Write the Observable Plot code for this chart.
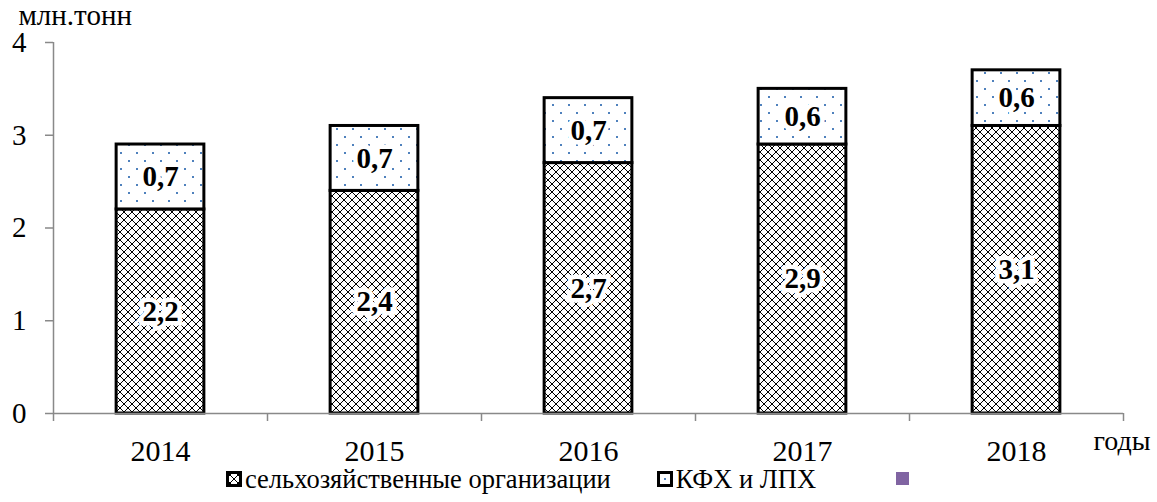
<!DOCTYPE html>
<html>
<head>
<meta charset="utf-8">
<script src="https://cdn.jsdelivr.net/npm/d3@7"></script>
<script src="https://cdn.jsdelivr.net/npm/@observablehq/plot@0.6"></script>
<style>
  body { margin: 0; background: white; font-family: "Liberation Serif", "Times New Roman", serif; }
  #wrap { position: relative; width: 1157px; height: 502px; overflow: hidden; background: white; }
  #wrap > svg { position: absolute; left: 0; top: 0; }
  #legend { position: absolute; left: 226px; top: 466px; display: flex; align-items: center; font-size: 26.5px; line-height: 1; white-space: nowrap; font-family: "Liberation Serif", serif; }
  #legend .item { display: flex; align-items: center; }
  #legend svg { display: block; margin-right: 3px; }
</style>
</head>
<body>
<div id="wrap">
  <div id="legend"></div>
</div>
<script>
// ---- data ----
const years = ["2014", "2015", "2016", "2017", "2018"];
const agri = [2.2, 2.4, 2.7, 2.9, 3.1];   // сельхозяйственные организации
const kfh = [0.7, 0.7, 0.7, 0.6, 0.6];    // КФХ и ЛПХ
const seriesNames = ["сельхозяйственные организации", "КФХ и ЛПХ"];
const yTicks = [0, 1, 2, 3, 4];
const yUnit = "млн.тонн";
const xUnit = "годы";

// ---- derived table ----
const rows = years.flatMap((year, i) => [
  {i, year, series: seriesNames[0], y1: 0, y2: agri[i], v: agri[i]},
  {i, year, series: seriesNames[1], y1: agri[i], y2: agri[i] + kfh[i], v: kfh[i]}
]);
const BAR = 0.41;
const boundaries = d3.range(years.length + 1);
const centres = years.map((_, i) => i + 0.5);
const fmt = v => v.toFixed(1).replace(".", ",");
const GRAY = "#898989";

const chart = Plot.plot({
  width: 1157,
  height: 502,
  marginLeft: 53,
  marginRight: 34,
  marginTop: 42,
  marginBottom: 89,
  x: {domain: [0, years.length]},
  y: {domain: [0, 4]},
  style: {fontFamily: "Liberation Serif", fontSize: "28px", background: "white", color: "black", overflow: "visible"},
  marks: [
    Plot.rectY(rows, {filter: d => d.series === seriesNames[0], x1: d => d.i + (1 - BAR) / 2, x2: d => d.i + (1 + BAR) / 2, y1: "y1", y2: "y2", fill: "url(#p-cross)", stroke: "black", strokeWidth: 3}),
    Plot.rectY(rows, {filter: d => d.series === seriesNames[1], x1: d => d.i + (1 - BAR) / 2, x2: d => d.i + (1 + BAR) / 2, y1: "y1", y2: "y2", fill: "url(#p-dots)", stroke: "black", strokeWidth: 3}),
    Plot.ruleX([0], {stroke: GRAY, strokeWidth: 1.5}),
    Plot.ruleY([0], {stroke: GRAY, strokeWidth: 1.5}),
    Plot.axisY({ticks: yTicks, tickSize: 8, tickPadding: 19, tickFormat: d => String(d), stroke: GRAY, strokeWidth: 1.5, fill: "black", fontSize: 29, label: null}),
    Plot.axisX({ticks: boundaries, tickSize: 8, tickFormat: () => "", stroke: GRAY, strokeWidth: 1.5, label: null}),
    Plot.axisX({ticks: centres, tickSize: 0, tickPadding: 26, tickFormat: v => years[Math.floor(v)], fill: "black", fontSize: 30, label: null}),
    Plot.text(rows, {x: d => d.i + 0.5, y: d => (d.y1 + d.y2) / 2, text: d => fmt(d.v), fontWeight: "bold", fontSize: 29, fill: "black", stroke: "white", strokeWidth: 9, strokeLinejoin: "miter"}),
    // unit labels, anchored to the frame corners
    Plot.text([yUnit], {frameAnchor: "top-left", text: d => d, dx: -35, dy: -38, textAnchor: "start", lineAnchor: "top", fontSize: 29, fill: "black"}),
    Plot.text([xUnit], {frameAnchor: "bottom-right", text: d => d, dx: -30, dy: 17, textAnchor: "start", lineAnchor: "top", fontSize: 28, fill: "black"})
  ]
});

// patterns
const defs = `<defs>
  <pattern id="p-cross" patternUnits="userSpaceOnUse" width="8" height="8">
    <rect width="8" height="8" fill="white"/>
    <path d="M0,0L8,8M8,0L0,8" stroke="black" stroke-width="1.1" shape-rendering="crispEdges"/>
  </pattern>
  <pattern id="p-dots" patternUnits="userSpaceOnUse" width="16" height="16">
    <rect width="16" height="16" fill="white"/>
    <rect x="0" y="0" width="2" height="2" fill="#4F81BD"/>
    <rect x="8" y="8" width="2" height="2" fill="#4F81BD"/>
  </pattern>
</defs>`;
chart.insertAdjacentHTML("afterbegin", defs);
document.getElementById("wrap").prepend(chart);

// legend
const legend = document.getElementById("legend");
const icons = [
  `<svg width="16" height="16"><rect x="1.5" y="1.5" width="13" height="13" fill="url(#p-cross)" stroke="black" stroke-width="3"/></svg>`,
  `<svg width="16" height="16"><rect x="1.5" y="1.5" width="13" height="13" fill="white" stroke="black" stroke-width="3"/><rect x="7" y="7" width="2" height="2" fill="#4F81BD"/></svg>`,
  `<svg width="14" height="14"><rect width="13" height="13" fill="#8064A2"/></svg>`
];
const labels = [...seriesNames, ""];
const gaps = [46, 80, 0];
labels.forEach((t, k) => {
  const it = document.createElement("div");
  it.className = "item";
  it.style.marginRight = gaps[k] + "px";
  it.innerHTML = icons[k] + (t ? `<span>${t}</span>` : "");
  legend.appendChild(it);
});
</script>
</body>
</html>
